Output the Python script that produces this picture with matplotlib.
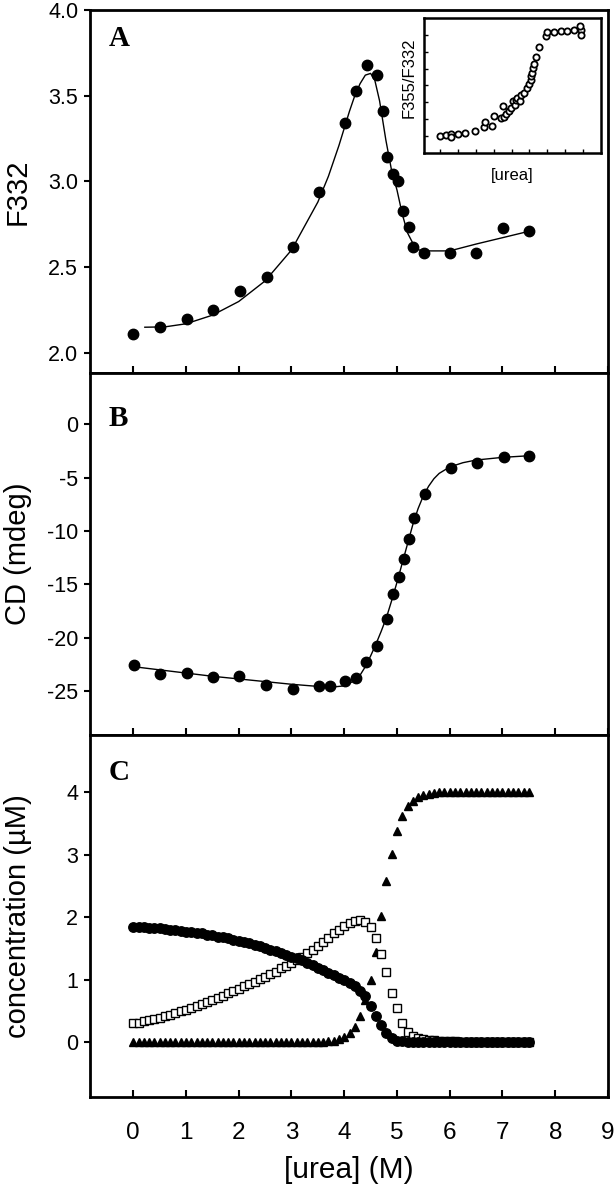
import numpy as np
import matplotlib
matplotlib.use('Agg')
import matplotlib.pyplot as plt

plt.rcParams['font.family'] = ['Liberation Sans', 'DejaVu Sans']
plt.rcParams['axes.unicode_minus'] = False

# ---- panel A: F332 vs urea ----
urea_a = [0.0, 0.51, 1.01, 1.51, 2.02, 2.53, 3.03, 3.53, 4.02, 4.22, 4.43, 4.62,
          4.73, 4.82, 4.92, 5.02, 5.12, 5.22, 5.31, 5.52, 6.0, 6.5, 7.01, 7.51]
f332 = [2.11, 2.15, 2.20, 2.25, 2.36, 2.445, 2.62, 2.94, 3.34, 3.53, 3.68, 3.62,
        3.41, 3.14, 3.045, 3.0, 2.83, 2.735, 2.62, 2.58, 2.58, 2.58, 2.73, 2.71]
fit_a_x = [0.22, 0.6, 1.0, 1.5, 2.0, 2.5, 3.0, 3.5, 3.7, 3.9, 4.0, 4.1, 4.2, 4.3,
           4.4, 4.5, 4.58, 4.67, 4.79, 4.9, 5.0, 5.1, 5.2, 5.3, 5.42, 5.6, 6.0,
           6.5, 7.0, 7.51]
fit_a_y = [2.15, 2.152, 2.17, 2.22, 2.30, 2.42, 2.60, 2.88, 3.03, 3.21, 3.31, 3.41,
           3.50, 3.57, 3.62, 3.63, 3.59, 3.47, 3.24, 3.06, 2.95, 2.81, 2.70, 2.64,
           2.60, 2.595, 2.595, 2.635, 2.672, 2.71]

# inset: F355/F332 vs urea (arbitrary units)
urea_in = [0.0, 0.32, 0.62, 0.62, 0.99, 1.40, 1.97, 2.43, 2.49, 2.90, 3.00, 3.43,
           3.50, 3.56, 3.71, 3.84, 3.99, 4.06, 4.18, 4.25, 4.31, 4.49, 4.55, 4.68,
           4.87, 4.96, 5.06, 5.11, 5.15, 5.19, 5.24, 5.34, 5.56, 5.94, 5.99, 6.37,
           6.74, 7.12, 7.49, 7.87, 7.87, 7.83]
ratio_in = [1.02, 1.06, 1.14, 0.96, 1.10, 1.18, 1.30, 1.56, 1.82, 1.62, 2.22, 2.06,
            2.80, 2.16, 2.30, 2.50, 2.66, 3.06, 2.86, 3.16, 3.26, 3.10, 3.46, 3.56,
            3.86, 4.06, 4.30, 4.56, 4.76, 5.02, 5.26, 5.66, 6.30, 6.96, 7.16, 7.16,
            7.20, 7.22, 7.26, 7.30, 7.02, 7.50]

# ---- panel B: CD vs urea ----
urea_b = [0.01, 0.51, 1.02, 1.51, 2.01, 2.52, 3.02, 3.53, 3.73, 4.02, 4.23, 4.42,
          4.62, 4.82, 4.92, 5.03, 5.13, 5.22, 5.33, 5.53, 6.02, 6.52, 7.02, 7.51]
cd = [-22.5, -23.4, -23.3, -23.7, -23.6, -24.4, -24.75, -24.5, -24.5, -24.0, -23.8,
      -22.3, -20.8, -18.2, -15.9, -14.3, -12.6, -10.7, -8.8, -6.5, -4.1, -3.65,
      -3.1, -2.97]
fit_b_x = [0.0, 0.5, 1.0, 1.5, 2.0, 2.5, 3.0, 3.5, 3.8, 4.0, 4.2, 4.3, 4.4, 4.5, 4.6,
           4.7, 4.8, 4.9, 5.0, 5.1, 5.2, 5.3, 5.4, 5.5, 5.6, 5.7, 5.8, 6.0, 6.25,
           6.5, 7.0, 7.5]
fit_b_y = [-22.7, -23.0, -23.3, -23.6, -23.85, -24.1, -24.35, -24.55, -24.6, -24.5,
           -24.0, -23.5, -22.7, -21.7, -20.6, -19.4, -18.1, -16.5, -14.8, -13.0,
           -11.2, -9.4, -7.9, -6.7, -5.8, -5.1, -4.6, -4.0, -3.6, -3.35, -3.1, -2.95]

# ---- panel C: species concentrations (0 to 7.5 M, 0.1 M steps) ----
urea_c = np.round(np.arange(0, 76) * 0.1, 1)
native = [1.85, 1.845, 1.84, 1.835, 1.83, 1.82, 1.81, 1.80, 1.79, 1.78,
          1.77, 1.76, 1.75, 1.74, 1.72, 1.71, 1.69, 1.68, 1.66, 1.64,
          1.62, 1.60, 1.58, 1.56, 1.54, 1.51, 1.48, 1.46, 1.43, 1.40,
          1.37, 1.34, 1.31, 1.27, 1.23, 1.19, 1.15, 1.11, 1.07, 1.03,
          0.99, 0.95, 0.89, 0.82, 0.73, 0.58, 0.42, 0.27, 0.14, 0.06,
          0.02, 0.01, 0.0, 0.0, 0.0, 0.0, 0.0, 0.0, 0.0, 0.0,
          0.0, 0.0, 0.0, 0.0, 0.0, 0.0, 0.0, 0.0, 0.0, 0.0,
          0.0, 0.0, 0.0, 0.0, 0.0, 0.0]
intermediate = [0.30, 0.31, 0.33, 0.35, 0.37, 0.39, 0.41, 0.44, 0.46, 0.49,
                0.52, 0.55, 0.58, 0.61, 0.64, 0.67, 0.71, 0.74, 0.78, 0.81,
                0.85, 0.89, 0.93, 0.97, 1.01, 1.05, 1.09, 1.13, 1.18, 1.22,
                1.27, 1.32, 1.37, 1.42, 1.48, 1.54, 1.60, 1.67, 1.74, 1.80,
                1.86, 1.91, 1.94, 1.95, 1.93, 1.84, 1.67, 1.41, 1.12, 0.78,
                0.54, 0.31, 0.16, 0.10, 0.07, 0.05, 0.04, 0.03, 0.02, 0.02,
                0.01, 0.01, 0.0, 0.0, 0.0, 0.0, 0.0, 0.0, 0.0, 0.0,
                0.0, 0.0, 0.0, 0.0, 0.0, 0.0]
unfolded = [0.0, 0.0, 0.0, 0.0, 0.0, 0.0, 0.0, 0.0, 0.0, 0.0,
            0.0, 0.0, 0.0, 0.0, 0.0, 0.0, 0.0, 0.0, 0.0, 0.0,
            0.0, 0.0, 0.0, 0.0, 0.0, 0.0, 0.0, 0.0, 0.0, 0.0,
            0.0, 0.0, 0.0, 0.0, 0.0, 0.0, 0.0, 0.01, 0.02, 0.05,
            0.08, 0.14, 0.24, 0.42, 0.68, 1.0, 1.45, 2.02, 2.58, 3.02,
            3.38, 3.62, 3.78, 3.87, 3.93, 3.96, 3.98, 3.99, 4.0, 4.0,
            4.0, 4.0, 4.0, 4.0, 4.0, 4.0, 4.0, 4.0, 4.0, 4.0,
            4.0, 4.0, 4.0, 4.0, 4.0, 4.0]

fig = plt.figure(figsize=(6.15, 11.99), dpi=100)

left, width = 0.1463, 0.8423
ax_a = fig.add_axes([left, 0.6889, width, 0.3028])
ax_b = fig.add_axes([left, 0.3870, width, 0.3019])
ax_c = fig.add_axes([left, 0.0851, width, 0.3019])

for ax in (ax_a, ax_b, ax_c):
    ax.set_xlim(-0.82, 9.0)
    ax.set_xticks(range(0, 10))
    for s in ax.spines.values():
        s.set_linewidth(2.0)
    ax.tick_params(axis='x', direction='in', length=5, width=1.5, top=False,
                   labelsize=17.5, pad=18)
    ax.tick_params(axis='y', direction='out', length=4.5, width=1.5,
                   right=False, labelsize=15.5, pad=4)
    ax.yaxis.set_label_coords(-0.112, 0.5)

ax_a.tick_params(axis='x', labelbottom=False)
ax_b.tick_params(axis='x', labelbottom=False)

# A
ax_a.plot(fit_a_x, fit_a_y, color='black', lw=1.0)
ax_a.plot(urea_a, f332, 'o', color='black', ms=7.5)
ax_a.set_ylim(1.883, 4.0)
ax_a.set_yticks([2.0, 2.5, 3.0, 3.5, 4.0])
ax_a.set_yticklabels(['2.0', '2.5', '3.0', '3.5', '4.0'])
ax_a.set_ylabel('F332', fontsize=21)
ax_a.text(0.036, 0.922, 'A', transform=ax_a.transAxes, fontsize=21,
          fontweight='bold', family='Liberation Serif', va='center')

# B
ax_b.plot(fit_b_x, fit_b_y, color='black', lw=1.0)
ax_b.plot(urea_b, cd, 'o', color='black', ms=7.5)
ax_b.set_ylim(-29.1, 4.8)
ax_b.set_yticks([-25, -20, -15, -10, -5, 0])
ax_b.set_ylabel('CD (mdeg)', fontsize=21)
ax_b.text(0.036, 0.873, 'B', transform=ax_b.transAxes, fontsize=21,
          fontweight='bold', family='Liberation Serif', va='center')

# C
ax_c.plot(urea_c, unfolded, '^', color='black', ms=6.3, zorder=2)
ax_c.plot(urea_c, intermediate, 's', mfc='white', mec='black', mew=1.0, ms=6, zorder=3)
ax_c.plot(urea_c, native, 'o', color='black', ms=6.8, zorder=4)
ax_c.set_ylim(-0.88, 4.92)
ax_c.set_yticks([0, 1, 2, 3, 4])
ax_c.set_ylabel('concentration (\u00b5M)', fontsize=21)
ax_c.set_xlabel('[urea] (M)', fontsize=21.5)
ax_c.xaxis.set_label_coords(0.5, -0.163)
ax_c.text(0.036, 0.895, 'C', transform=ax_c.transAxes, fontsize=21,
          fontweight='bold', family='Liberation Serif', va='center')

# inset in A
ax_in = fig.add_axes([0.6894, 0.8724, 0.2878, 0.1126])
ax_in.plot(urea_in, ratio_in, 'o', mfc='white', mec='black', mew=1.3, ms=4.5)
ax_in.set_xlim(-0.9, 9.0)
ax_in.set_ylim(0, 8)
ax_in.set_xticks(range(0, 9))
ax_in.set_yticks(range(1, 8))
ax_in.tick_params(direction='in', length=3, width=1, labelleft=False,
                  labelbottom=False)
for s in ax_in.spines.values():
    s.set_linewidth(1.8)
ax_in.set_ylabel('F355/F332', fontsize=12)
ax_in.yaxis.set_label_coords(-0.04, 0.56)
ax_in.set_xlabel('[urea]', fontsize=12, va='top')
ax_in.xaxis.set_label_coords(0.5, -0.11)

fig.savefig('out.png', dpi=100)
